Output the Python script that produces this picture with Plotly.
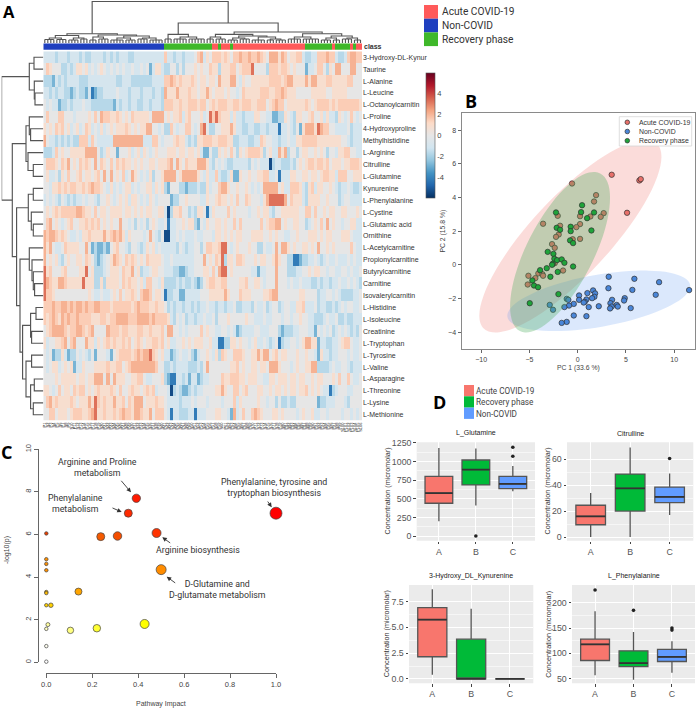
import plotly.graph_objects as go

W, H = 696, 709
FONT = "Liberation Sans"
ROB = "Roboto"

# ---------- Panel A data ----------
METABOLITES = ["3-Hydroxy-DL-Kynur", "Taurine", "L-Alanine", "L-Leucine", "L-Octanoylcarnitin", "L-Proline",
               "4-Hydroxyproline", "Methylhistidine", "L-Arginine", "Citrulline", "L-Glutamine", "Kynurenine",
               "L-Phenylalanine", "L-Cystine", "L-Glutamic acid", "Ornithine", "L-Acetylcarnitine",
               "Propionylcarnitine", "Butyrylcarnitine", "Carnitine", "Isovalerylcarnitin", "L-Histidine",
               "L-Isoleucine", "Creatinine", "L-Tryptophan", "L-Tyrosine", "L-Valine", "L-Asparagine",
               "L-Threonine", "L-Lysine", "L-Methionine"]
LEVEL_VALUES = {"0": -5.4, "1": -4.2, "2": -2.8, "3": -1.7, "4": -1.0, "5": 0.0, "6": 0.9, "7": 1.5, "8": 2.1, "9": 3.3}
NON_COVID_LEVELS = [
    "4444344434 4434334444 3434344433 4444444444",
    "5765553343 4665645456 5454545445 4454524664",
    "3332434344 4433344444 4444334443 3333334444",
    "4434344332 3433241233 4444544434 4434443443",
    "5454423343 4445443333 3332434434 4334434443",
    "5755577555 4555565758 7766765657 6666658888",
    "6565767564 5645764546 4565666765 6566885545",
    "8544343434 3377747544 4448888888 8884447754",
    "3334756556 6666888853 4655255564 5646545655",
    "5777657685 6576765857 6575767665 6565566566",
    "5644536575 5675665675 8585657458 6545463556",
    "5546676767 7667678776 5464545664 5455664656",
    "4545435434 3445455435 5654565646 6545465455",
    "5656767777 7887665756 6566665665 6565665566",
    "5785654567 5566767675 6565585545 3545356544",
    "8788767654 4546676666 8678786465 5554585435",
    "8685445766 6655852322 3256755435 5434656454",
    "8565643565 5665765323 4568765767 6565766665",
    "9675556755 5566956333 4566657668 5634456655",
    "9876688766 6669666336 3666657676 6564775546",
    "9776555555 5555565445 4456575667 6578875665",
    "7778778878 7887877887 7767777776 7877766766",
    "7678768787 7877776667 7677888877 7888878777",
    "5678888767 7887678555 5877767766 6776676667",
    "6455667857 8555866465 6767667675 6765667767",
    "5452336423 3545435255 5425677776 7878897656",
    "5456645656 2446555666 6766775678 8888888755",
    "5555656666 6566566888 5858666556 6775445556",
    "6654575665 7677565676 6676575567 6656767455",
    "5786766667 6566686976 7668667576 8885666766",
    "5577566656 7776678966 7667678776 8876685777",
]
PATIENT_LEVELS = [
    "7443443444 5784657776 7657787787 7876588868 7566774334 4777877433 478877",
    "3355353555 6565576636 6677567779 5555377767 7656555244 5775365885 558855",
    "7787676667 6566566586 6688546556 6666677776 7886666868 8666776666 677555",
    "8666866676 6566865666 5655457666 6677766778 7666555556 6666556666 655555",
    "7776676677 7677567677 7667767776 6777567877 5666666765 6777767677 777776",
    "5656674675 5564597976 6646443444 6655442233 6543665567 5564644365 457545",
    "3375455775 4589533556 6686443344 3344344414 4543526888 6987755444 453444",
    "5556766434 3667776677 7663344433 4476554434 4544667777 7666666665 543444",
    "5666566566 5642253365 6575365677 7763564486 8355356655 6565355466 775544",
    "6785865766 6888643545 4334444435 4544403443 3343565677 6776756665 667776",
    "8888568888 8654644743 3462265565 5667744514 4466556656 6567766477 755666",
    "3255533233 3433645578 8655655654 5458888856 4477764367 4665565434 454334",
    "5523355655 5544655676 6565755765 5546899999 8576664366 6655655534 554444",
    "4036675534 3665146555 5756555545 5656643556 6666655775 7556566556 655565",
    "5144556566 3254655665 6557575555 5575677885 6556655345 6575856554 556644",
    "0044545444 5445554665 6565665556 6665565655 4455655566 6565665556 665444",
    "4444354344 5535776679 9545655565 5335445858 8656556656 5855656555 557544",
    "4454444444 5558565769 3665776555 6566556865 5331123344 5434544544 454544",
    "4443322344 5556657589 9565555554 4244555855 5333445565 6655455445 545445",
    "3333434334 3235677667 7555566755 6654555855 5454454443 3434434454 454543",
    "1334422444 4455566666 8655576665 5556678855 5555566555 5344554543 333445",
    "5343443443 4344544344 3445334443 5445345534 5544667444 5344334345 455445",
    "7643545344 3445445355 5655555655 4445445554 5545565544 3334544533 433444",
    "5885545455 5575655445 5454234444 5544455532 3334455544 2545453454 543435",
    "5644556565 6665564411 3366565545 6445434513 4455456886 6244334456 775445",
    "4423454453 2455654637 6557776556 6868856756 6555655655 4264434455 545445",
    "3343444433 3435855555 5566756556 6566588865 5545655668 8333345445 543444",
    "3211443424 4234455557 6677766566 6554466566 6566566556 5665556575 575445",
    "5403432234 3445555668 6557756755 5665565665 6566566756 5654413455 544555",
    "5444434445 4555455554 5557465555 5655455353 3433555555 5233444555 435555",
    "5414433344 1444555665 5428457557 8765556656 5555456556 4455455554 554545",
]
CLASS_RUNS = [("N", 40), ("R", 16), ("A", 2), ("R", 1), ("A", 3), ("R", 1), ("A", 24),
              ("R", 9), ("A", 1), ("R", 5), ("A", 1), ("R", 1), ("A", 2)]
CLASS_CODE = {"N": 0, "R": 1, "A": 2}
SAMPLE_LABELS = [f"{'S' if i % 2 else 'P'}{i + 1}" for i in range(106)]
ROW_TREE = [41.7,
            [14, [9.3, 0, 1], [9, 2, [8.3, 3, 4]]],
            [31,
             [17.3, [14, 5, [12.7, 6, 7]], [15.3, 8, [10, 9, 10]]],
             [26.7,
              [15, [10, 11, 12], [12, 13, [10, 14, 15]]],
              [23.3,
               [14, 16, [11.3, 17, [10, 18, [8.7, 19, 20]]]],
               [20.7,
                [12.7, [7.3, 21, 22], [11.7, 23, 24]],
                [17.3, [11.7, 25, 26], [12.7, [9, 27, 28], [10, 29, 30]]]]]]]]
COL_TREE = [41.7,
            [9.3,
             [7.5, [5, [3.5, 4], [3.5, 4]], [5, [3, 4], [4, 3]]],
             [8, [6, [3, 3], [4, 4]], [7, [5, [3, 5], [3, 4]], [5, [4, 4], [3, 5]]]]],
            [20,
             [8.7, [4, 3], [6, [4, 5], [4, 6]]],
             [11,
              [8.7, [6, [4, 3], [4, 4]], [7, [5, [3, 4], [4, 4]], [6, [3, 5], [4, [3, 3], [3, 4]]]]],
              [9.3, [6, [4, 5], [4, 6]], [7, [5, [3, 4], [3, 3]], [5, [4, 4], [3, 3]]]]]]]
A_LEGEND = [("Acute COVID-19", "#FF5A5A"), ("Non-COVID", "#1F3FBF"), ("Recovery phase", "#3FB82A")]
CB_TICKS = [-4, -2, 0, 2, 4]

# ---------- Panel B data ----------
ACUTE_X = [-0.59, 3.52, 6.39, 6.53, 5.11, -3.59, 1.90, 1.69, 2.69, 2.38, 1.31, 0.24, 0.24, -0.14, -1.83, -1.97, -2.25,
           -0.52, 0.24, -2.66, -2.38, -2.07, -1.52, -5.11, -5.18, -4.39, -4.08, -3.66, -3.59, -2.38]
ACUTE_Y = [4.83, 5.35, 5.01, 5.09, 3.09, 2.44, 4.14, 3.76, 3.07, 2.85, 2.87, 2.89, 2.42, 2.24, 2.32, 1.80, 1.66,
           1.52, 1.54, 1.23, 1.01, 2.91, -0.34, -0.65, -1.17, -0.79, -0.51, -0.55, -0.65, 0.10]
RECOV_X = [0.45, 0.35, -2.25, 1.69, 0.97, -0.73, -2.18, -1.83, -0.73, 1.42, -0.79, -0.48, -3.11, -2.52, -2.42, -2.14,
           -1.66, -1.38, -2.59, -2.66, -0.48, -3.21, -2.83, -2.07, -3.90, -4.70, -4.53, -4.11, -2.00, -4.97]
RECOV_Y = [3.54, 3.13, 3.11, 3.11, 2.77, 2.26, 2.20, 2.08, 2.00, 2.04, 1.45, 1.29, 0.77, 0.65, 0.36, 0.28,
           0.32, 0.12, 0.06, 0.0, -0.10, -0.20, -0.71, -0.42, -0.32, -0.93, -1.23, -1.33, -1.74, -2.28]
NONCOV_X = [3.21, 5.87, 8.43, 3.18, 5.66, 11.54, 1.59, 1.00, 1.80, 8.08, 0.14, 1.73, 1.49, 0.90, 4.87, -1.14, -0.97,
            4.80, 0.14, -0.41, 0.73, 0.62, 3.56, 3.39, -0.90, -1.38, 1.14, 2.18, 3.52, 4.04, 4.15, 3.35, 5.49, -2.90,
            -2.56, -0.41, 0.90, -1.14, -1.66]
NONCOV_Y = [-0.71, -0.83, -1.03, -1.39, -1.49, -1.50, -1.52, -1.68, -1.70, -1.78, -1.82, -1.90, -1.98, -2.06, -1.98,
            -2.02, -2.08, -2.12, -2.08, -2.32, -2.20, -2.24, -2.08, -2.28, -2.42, -2.51, -2.51, -2.46, -2.48, -2.38,
            -2.48, -2.59, -2.57, -2.38, -2.67, -3.01, -3.05, -3.39, -3.45]
# centre, then the two half-axis vectors of each confidence ellipse (data units)
ELL_ACUTE = (-0.76, 1.70, 8.95, 5.50, -2.98, 1.59)
ELL_RECOV = (-1.83, 0.75, 4.16, 4.68, -3.08, 0.90)
ELL_NONCOV = (2.18, -2.14, 9.46, 0.956, -0.47, 1.52)
B_LEGEND = ["Acute COVID-19", "Non-COVID", "Recovery phase"]
B_COLORS = ["#E8706A", "#4A86D8", "#1FA33A"]

# ---------- Panel C data ----------
IMPACT = [1.0, 0.392, 0.357, 0.48, 0.31, 0.237, 0.0, 0.5, 0.0, 0.0, 0.0, 0.14, 0.0, 0.0, 0.0, 0.02, 0.428, 0.22, 0.105,
          0.007, 0.0, 0.0, 0.0]
LOGP = [7.0, 7.70, 7.0, 6.07, 5.93, 5.90, 6.05, 4.35, 4.84, 4.62, 4.32, 3.32, 3.3, 3.25, 2.68, 2.68, 1.8, 1.6, 1.5,
        1.77, 1.57, 0.76, 0.03]
DIAM = [12, 8.3, 8, 9, 8.5, 8, 3.5, 10, 3.5, 3.5, 3.5, 7, 3.5, 3.5, 3.5, 4.5, 9, 7.5, 6.5, 4, 3.5, 3.5, 3.5]
HEAT = ["#FF0000", "#FF1A00", "#FE2A00", "#FF3300", "#F44E00", "#F55A00", "#E84000", "#FF8C00", "#FF9000", "#FF9000",
        "#FF9000", "#FFA500", "#FFBB00", "#FFBB00", "#FFD000", "#FFD000", "#FFFF00", "#FFFF33", "#FFFF80", "#FFFFA0",
        "#FFFFC0", "#FFFFF0", "#FFFFFF"]
C_LABELS = [("Arginine and Proline<br>metabolism", 97, 467), ("Phenylalanine<br>metabolism", 75.5, 503),
            ("Phenylalanine, tyrosine and<br>tryptophan biosynthesis", 274, 487),
            ("Arginine biosynthesis", 198, 550), ("D-Glutamine and<br>D-glutamate metabolism", 217, 589)]

# ---------- Panel D data ----------
D_NAMES = ["L_Glutamine", "Citrulline", "3-Hydroxy_DL_Kynurenine", "L_Phenylalanine"]
D_CATS = ["A", "B", "C"]
D_COLORS = ["#F8766D", "#00BA38", "#619CFF"]
D_LOW = [[200, 410, 600], [0, 0, 17], [0.4, 0, 0], [57, 48, 62]]
D_Q1 = [[440, 685, 635], [9.5, 20, 26.5], [2.15, 0, 0], [86, 74, 84]]
D_MED = [[575, 890, 700], [16, 37.5, 31], [5.75, 0, 0], [118, 81, 93]]
D_Q3 = [[800, 1020, 800], [24.5, 48.5, 38.5], [6.9, 3.85, 0], [128, 105, 108]]
D_HIGH = [[1180, 1175, 940], [34, 69, 49], [8.7, 6.8, 0], [183, 142, 124]]
D_OUT_X = [[2, 3, 3], [3], [], [1, 2, 3, 3]]
D_OUT_Y = [[0, 1070, 1190], [60.5], [], [225, 185, 146, 150]]
D_TICKS = [[0, 250, 500, 750, 1000, 1250], [0, 20, 40, 60], [0, 2.5, 5, 7.5], [50, 100, 150, 200]]
D_TICKTEXT = [None, None, ["0.0", "2.5", "5.0", "7.5"], None]
D_RANGE = [[-62, 1257], [-2.8, 73], [-0.42, 9.1], [41, 235]]
D_BOX = [(416.7, 442.3, 535, 540.7), (567, 442.3, 693.3, 540.7), (409, 585, 533.3, 683.3), (572, 585, 695, 683.3)]
D_YTITLE_X = [387, 547, 386, 547.7]
D_LEGEND = ["Acute COVID-19", "Recovery phase", "Non-COVID"]


def dx(a, b):
    return [a / W, b / W]


def dy(t, b):
    return [1 - b / H, 1 - t / H]


def note(text, x, y, size=8, font=FONT, color="#333", anchor="center", angle=0, bold=False, valign="middle"):
    if bold:
        text = f"<b>{text}</b>"
    return dict(text=text, x=x / W, y=1 - y / H, xref="paper", yref="paper", showarrow=False, xanchor=anchor,
                yanchor=valign, textangle=angle, font=dict(family=font, size=size, color=color), align="center",
                borderpad=0, borderwidth=0)


def arrow(x0, y0, x1, y1):
    return dict(text="", x=x1 / W, y=1 - y1 / H, xref="paper", yref="paper", ax=x0 - x1, ay=y0 - y1, axref="pixel",
                ayref="pixel", showarrow=True, arrowhead=2, arrowsize=1, arrowwidth=0.9, arrowcolor="#333")


def rect(x0, y0, x1, y1, fill, line=None):
    return dict(type="rect", xref="paper", yref="paper", x0=x0 / W, x1=x1 / W, y0=1 - y0 / H, y1=1 - y1 / H,
                fillcolor=fill, line=dict(width=0.8 if line else 0, color=line or fill))


fig = go.Figure()
annotations, shapes = [], []

# heat map
z = []
for a, b in zip(NON_COVID_LEVELS, PATIENT_LEVELS):
    s = (a + b).replace(" ", "").ljust(106, "5")[:106]
    z.append([LEVEL_VALUES[c] for c in s])
scale = ["#053061", "#2166AC", "#4393C3", "#92C5DE", "#D1E5F0", "#E6E6E6", "#FDDBC7", "#F4A582", "#D6604D", "#B2182B",
         "#67001F"]
fig.add_trace(go.Heatmap(
    z=z, x=list(range(106)), y=list(range(31)), zmin=-6, zmax=6,
    colorscale=[[i / 10, c] for i, c in enumerate(scale)], xaxis="x", yaxis="y", hoverinfo="skip",
    colorbar=dict(x=425.5 / W, xanchor="left", y=1 - 73 / H, yanchor="top", len=125 / H, lenmode="fraction",
                  thickness=8.5, thicknessmode="pixels", xpad=0, ypad=0, outlinewidth=0.6, outlinecolor="#555",
                  tickvals=CB_TICKS, ticktext=[str(v) for v in CB_TICKS], ticks="",
                  tickfont=dict(family=FONT, size=7.5, color="#444"))))
fig.update_layout(
    xaxis=dict(domain=dx(43.3, 362), range=[-0.5, 105.5], tickmode="array", tickvals=list(range(106)),
               ticktext=SAMPLE_LABELS, tickangle=-90, ticks="", tickfont=dict(family=FONT, size=4, color="#111"),
               showgrid=False, zeroline=False, anchor="y"),
    yaxis=dict(domain=dy(51.3, 420.7), range=[30.5, -0.5], side="right", tickmode="array",
               tickvals=list(range(31)), ticktext=METABOLITES, ticks="",
               tickfont=dict(family=FONT, size=7, color="#333"), showgrid=False, zeroline=False, anchor="x"))

# class bar
codes = [[CLASS_CODE[k] for k, n in CLASS_RUNS for _ in range(n)]]
fig.add_trace(go.Heatmap(
    z=codes, x=list(range(106)), zmin=0, zmax=2, showscale=False, xaxis="x2", yaxis="y2", hoverinfo="skip",
    colorscale=[[0, "#1F3FBF"], [0.333, "#1F3FBF"], [0.333, "#3FB82A"], [0.667, "#3FB82A"], [0.667, "#FF5A5A"],
                [1, "#FF5A5A"]]))
fig.update_layout(
    xaxis2=dict(domain=dx(43.3, 362), range=[-0.5, 105.5], visible=False, anchor="y2"),
    yaxis2=dict(domain=dy(43.3, 49.8), visible=False, anchor="x2"))
annotations.append(note("class", 364, 46.5, size=7, anchor="left", bold=True))

# dendrograms
row_x, row_y = [], []


def walk_rows(node):
    if isinstance(node, int):
        return node, 0
    h, left, right = node
    pl, hl = walk_rows(left)
    pr, hr = walk_rows(right)
    row_x.extend([hl, h, h, hr, None])
    row_y.extend([pl, pl, pr, pr, None])
    return (pl + pr) / 2, h


walk_rows(ROW_TREE)
col_x, col_y = [], []
cursor = [0]


def walk_cols(node):
    if len(node) == 2:
        h, n = node
        first = cursor[0]
        cursor[0] += n
        for i in range(first, first + n):
            col_x.extend([i, i, None])
            col_y.extend([0, h, None])
        col_x.extend([first, first + n - 1, None])
        col_y.extend([h, h, None])
        return first + (n - 1) / 2, h
    h, left, right = node
    pl, hl = walk_cols(left)
    pr, hr = walk_cols(right)
    col_x.extend([pl, pl, pr, pr, None])
    col_y.extend([hl, h, h, hr, None])
    return (pl + pr) / 2, h


walk_cols(COL_TREE)
fig.add_trace(go.Scatter(x=col_x, y=col_y, mode="lines", line=dict(color="#555555", width=1.15), xaxis="x3", yaxis="y3",
                         showlegend=False, hoverinfo="skip"))
fig.add_trace(go.Scatter(x=row_x, y=row_y, mode="lines", line=dict(color="#555555", width=1.15), xaxis="x4", yaxis="y4",
                         showlegend=False, hoverinfo="skip"))
fig.update_layout(
    xaxis3=dict(domain=dx(43.3, 362), range=[-0.5, 105.5], visible=False, anchor="y3"),
    yaxis3=dict(domain=dy(1, 43), range=[0, 42], visible=False, anchor="x3"),
    xaxis4=dict(domain=dx(1.7, 43.3), range=[41.6, 0], visible=False, anchor="y4"),
    yaxis4=dict(domain=dy(51.3, 420.7), range=[30.5, -0.5], visible=False, anchor="x4"))

for i, (label, color) in enumerate(A_LEGEND):
    shapes.append(rect(424, 5 + i * 13.7, 438, 5 + (i + 1) * 13.7, color))
    annotations.append(note(label, 442, 11.8 + i * 13.7, size=10.2, font=ROB, anchor="left"))


# Panel B
def ellipse(e, fill, name):
    cx, cy, ax, ay, bx, by = e
    c = [1.0, 0.9877, 0.9511, 0.8910, 0.8090, 0.7071, 0.5878, 0.4540, 0.3090, 0.1564, 0.0]
    s = [0.0, 0.1564, 0.3090, 0.4540, 0.5878, 0.7071, 0.8090, 0.8910, 0.9511, 0.9877, 1.0]
    ct = c + [-v for v in c[-2::-1]] + [-v for v in c[1:]] + c[-2::-1]
    st = s + s[-2::-1] + [-v for v in s[1:]] + [-v for v in s[-2::-1]]
    fig.add_trace(go.Scatter(x=[cx + ax * p + bx * q for p, q in zip(ct, st)],
                             y=[cy + ay * p + by * q for p, q in zip(ct, st)], mode="lines", fill="toself",
                             fillcolor=fill, line=dict(width=0, shape="spline", smoothing=1), xaxis="x5", yaxis="y5",
                             showlegend=False, hoverinfo="skip", name=name))


def points(xs, ys, color):
    fig.add_trace(go.Scatter(x=xs, y=ys, mode="markers", xaxis="x5", yaxis="y5", showlegend=False, hoverinfo="skip",
                             marker=dict(size=5.4, color=color, line=dict(color="#2F2F2F", width=0.7))))


ellipse(ELL_ACUTE, "rgba(240,110,100,0.24)", "acute")
points(ACUTE_X, ACUTE_Y, B_COLORS[0])
ellipse(ELL_NONCOV, "rgba(90,150,240,0.22)", "non")
points(NONCOV_X, NONCOV_Y, B_COLORS[1])
ellipse(ELL_RECOV, "rgba(70,170,90,0.32)", "recovery")
points(RECOV_X, RECOV_Y, B_COLORS[2])
fig.update_layout(
    xaxis5=dict(domain=dx(461.7, 695), range=[-12.02, 12.15], tickvals=[-10, -5, 0, 5, 10], showgrid=False,
                zeroline=False, showline=True, mirror=True, linecolor="#8A8A8A", linewidth=1.4, ticks="outside",
                ticklen=3, tickcolor="#666", tickfont=dict(family=FONT, size=7, color="#444"), anchor="y5"),
    yaxis5=dict(domain=dy(113.3, 349), range=[-5.0, 9.0], tickvals=[-4, -2, 0, 2, 4, 6, 8], showgrid=False,
                zeroline=False, showline=True, mirror=True, linecolor="#8A8A8A", linewidth=1.4, ticks="outside",
                ticklen=3, tickcolor="#666", tickfont=dict(family=FONT, size=7, color="#444"), anchor="x5"))
annotations.append(note("PC 1 (33.6 %)", 578, 368, size=6.8, color="#444"))
annotations.append(note("PC 2 (15.8 %)", 442.5, 231, size=6.8, color="#444", angle=-90))
shapes.append(rect(619.3, 116.7, 691.7, 146, "rgba(255,255,255,0.9)", "#D5D5D5"))
for i, (label, color) in enumerate(zip(B_LEGEND, B_COLORS)):
    yy = 122.3 + i * 9.2
    shapes.append(dict(type="circle", xref="paper", yref="paper", x0=(627.3 - 2.3) / W, x1=(627.3 + 2.3) / W,
                       y0=1 - (yy + 2.3) / H, y1=1 - (yy - 2.3) / H, fillcolor=color,
                       line=dict(color="#2F2F2F", width=0.7)))
    annotations.append(note(label, 639, yy, size=6.9, color="#333", anchor="left"))

# Panel C
fig.add_trace(go.Scatter(x=IMPACT, y=LOGP, mode="markers", xaxis="x6", yaxis="y6", showlegend=False, hoverinfo="skip",
                         cliponaxis=False,
                         marker=dict(size=DIAM, color=HEAT, opacity=1, line=dict(color="#444", width=0.7))))
fig.update_layout(
    xaxis6=dict(domain=dx(46.3, 276), range=[0, 1], tickvals=[0, 0.2, 0.4, 0.6, 0.8, 1.0],
                ticktext=["0.0", "0.2", "0.4", "0.6", "0.8", "1.0"], showgrid=False, zeroline=False, showline=True,
                linecolor="#666", linewidth=1, ticks="outside", ticklen=4, tickcolor="#666",
                tickfont=dict(family=FONT, size=7.5, color="#444"), anchor="free", position=1 - 673.3 / H),
    yaxis6=dict(domain=dy(449.3, 662.3), range=[0, 10], tickvals=[0, 2, 4, 6, 8, 10], tickangle=-90, showgrid=False,
                zeroline=False, showline=True, linecolor="#666", linewidth=1, ticks="outside", ticklen=4,
                tickcolor="#666", tickfont=dict(family=FONT, size=7.5, color="#444"), anchor="free",
                position=37.7 / W))
annotations.append(note("Pathway Impact", 161, 704, size=7, color="#444"))
annotations.append(note("-log10(p)", 7, 550, size=7, color="#444", angle=-90))
for text, x, y in C_LABELS:
    annotations.append(note(text, x, y, size=8.8, font=ROB, color="#333"))
for a in [(120, 479.3, 131, 492.3), (111, 507.3, 121.7, 512), (266.7, 500, 271.7, 507.3), (171.7, 544, 162.3, 537.3),
          (176.7, 584, 166.7, 576.7)]:
    annotations.append(arrow(*a))

# Panel D
for i, name in enumerate(D_NAMES):
    xa, ya = f"x{7 + i}", f"y{7 + i}"
    for j, cat in enumerate(D_CATS):
        fig.add_trace(go.Box(x=[j + 1], q1=[D_Q1[i][j]], median=[D_MED[i][j]], q3=[D_Q3[i][j]],
                             lowerfence=[D_LOW[i][j]], upperfence=[D_HIGH[i][j]], width=0.75, whiskerwidth=0,
                             fillcolor=D_COLORS[j], line=dict(color="#555555", width=1.3), boxpoints=False,
                             xaxis=xa, yaxis=ya, showlegend=False, hoverinfo="skip"))
    mx, my = [], []
    for j in range(3):
        mx.extend([j + 1 - 0.375, j + 1 + 0.375, None])
        my.extend([D_MED[i][j], D_MED[i][j], None])
    fig.add_trace(go.Scatter(x=mx, y=my, mode="lines", line=dict(color="#333", width=1.8), xaxis=xa, yaxis=ya,
                             showlegend=False, hoverinfo="skip"))
    if D_OUT_X[i]:
        fig.add_trace(go.Scatter(x=D_OUT_X[i], y=D_OUT_Y[i], mode="markers", xaxis=xa, yaxis=ya, showlegend=False,
                                 hoverinfo="skip", marker=dict(size=3.6, color="#222")))
    l, t, r, b = D_BOX[i]
    kw_x = dict(domain=dx(l, r), range=[0.4, 3.6], tickmode="array", tickvals=[1, 2, 3], ticktext=D_CATS,
                showgrid=True, gridcolor="white", gridwidth=1, zeroline=False, ticks="outside", ticklen=2.5,
                tickcolor="#444", tickfont=dict(family=FONT, size=8.8, color="#555"), anchor=ya)
    kw_y = dict(domain=dy(t, b), range=D_RANGE[i], tickmode="array", tickvals=D_TICKS[i], showgrid=True,
                gridcolor="white", gridwidth=1, zeroline=False, ticks="outside", ticklen=2.5, tickcolor="#444",
                tickfont=dict(family=FONT, size=8.8, color="#555"), anchor=xa,
                minor=dict(tickvals=[(p + q) / 2 for p, q in zip(D_TICKS[i], D_TICKS[i][1:])], showgrid=True,
                           gridcolor="#F6F6F6", gridwidth=0.6, ticks=""))
    if D_TICKTEXT[i]:
        kw_y["ticktext"] = D_TICKTEXT[i]
    fig.update_layout(**{f"xaxis{7 + i}": kw_x, f"yaxis{7 + i}": kw_y})
    shapes.append(rect(l, t, r, b, "#EBEBEB") | {"layer": "below"})
    annotations.append(note(name, (l + r) / 2, t - 9.3, size=7, color="#222"))
    annotations.append(note("Concentration (micromolar)", D_YTITLE_X[i], (t + b) / 2, size=7.2, color="#333",
                            angle=-90))

for i, (label, color) in enumerate(zip(D_LEGEND, D_COLORS)):
    shapes.append(rect(464, 385 + i * 11.3, 474, 385 + (i + 1) * 11.3, color))
    annotations.append(note(label, 475.5, 391 + i * 11.3, size=8.2, font=ROB, color="#444", anchor="left"))

# Panel letters
for letter, x, y, size in [("A", 9, 11.5, 16.5), ("B", 471, 101, 18), ("C", 6.5, 452, 18), ("D", 439, 401.5, 18)]:
    annotations.append(note(letter, x, y, size=size, font="Open Sans", color="black", bold=True))

fig.update_layout(width=W, height=H, margin=dict(l=0, r=0, t=0, b=0, autoexpand=False), paper_bgcolor="white",
                  plot_bgcolor="rgba(0,0,0,0)", showlegend=False, boxmode="overlay", annotations=annotations,
                  shapes=shapes)
fig.write_html("out.html", config={"displayModeBar": False},
               post_script="document.body.style.margin='0';document.body.style.overflow='hidden';")
